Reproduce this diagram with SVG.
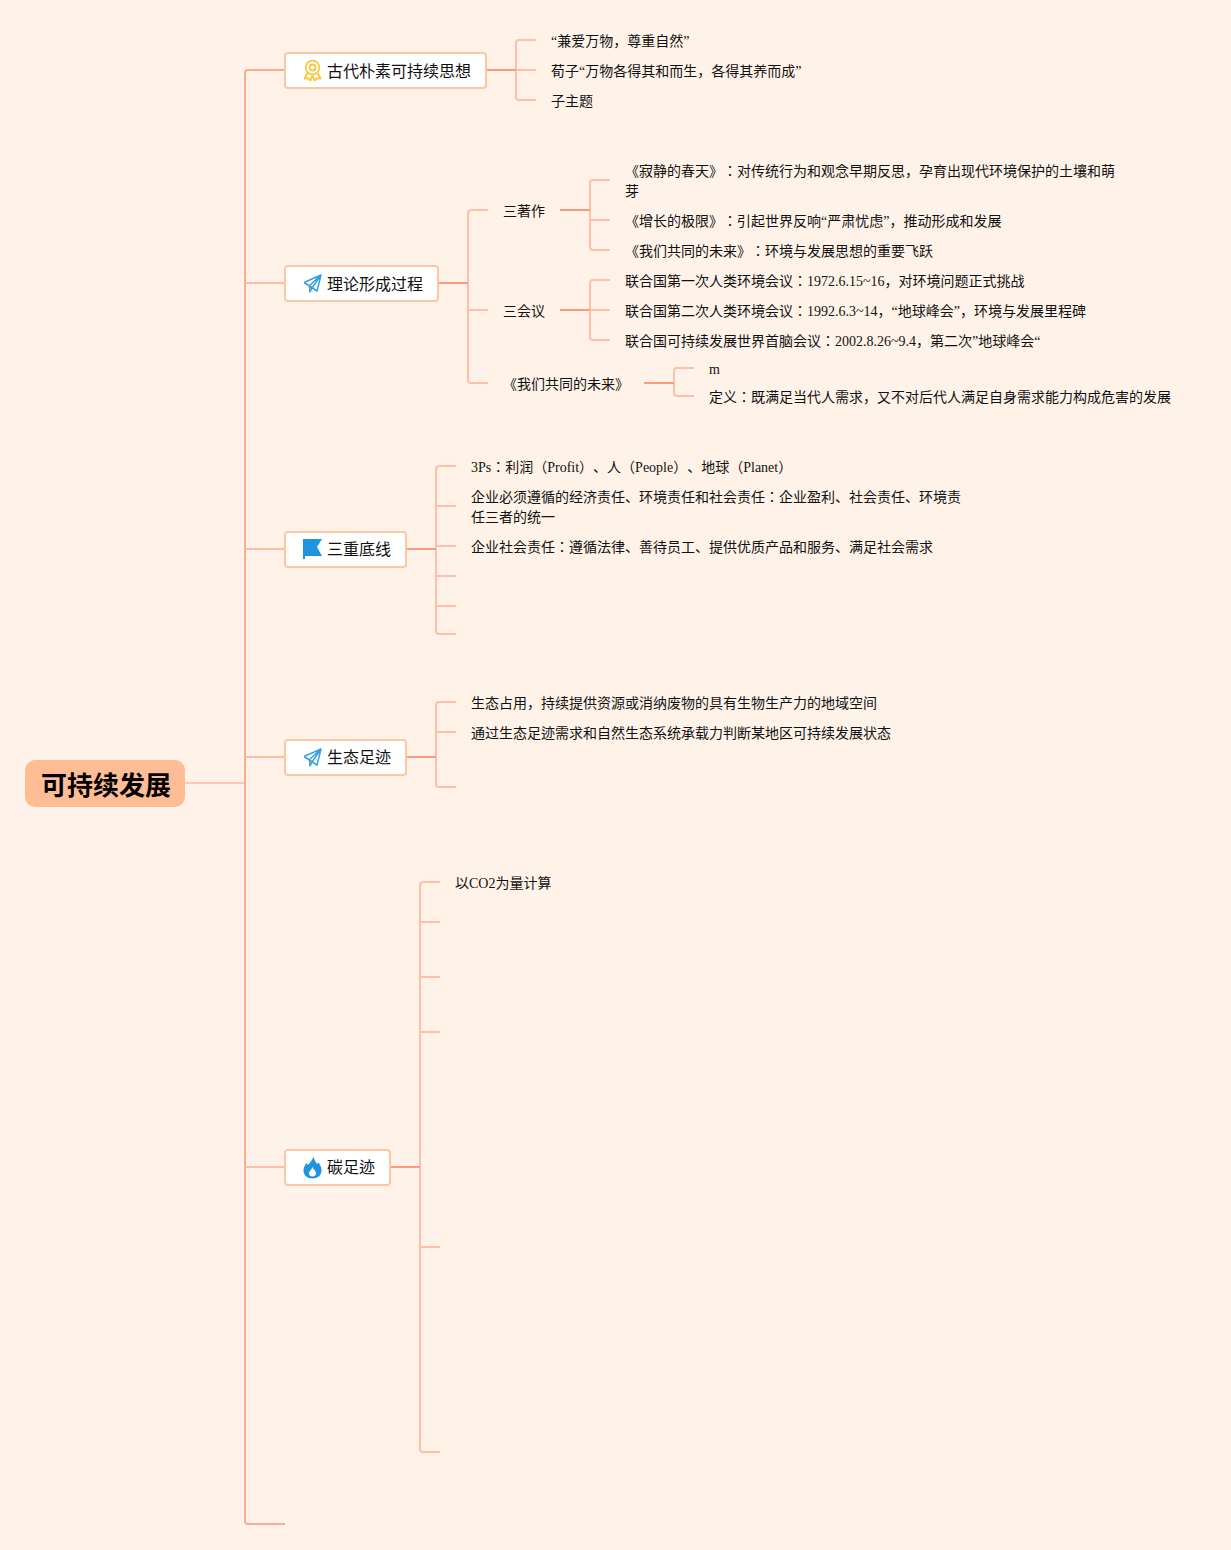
<svg xmlns="http://www.w3.org/2000/svg" width="1231" height="1550" viewBox="0 0 1231 1550">
<style>
text{font-family:"Liberation Serif","Noto Sans CJK JP",serif;font-size:14px;fill:#111;font-kerning:none;text-spacing-trim:space-all}
.t{font-size:16px;font-family:"Noto Sans CJK JP","Liberation Sans",sans-serif}
.r{font-size:26px;font-weight:700;fill:#000;font-family:"Noto Sans CJK JP","Liberation Sans",sans-serif}
.box{fill:#fff;stroke:#ffc6a6;stroke-width:2}
.l{fill:none;stroke:#ffbfa8;stroke-width:2}
.h{fill:none;stroke:#ff9a80;stroke-width:2}
.m{fill:none;stroke:#ff9a80;stroke-width:1}
.p{fill:none;stroke:#3a9fdc;stroke-width:1.5;stroke-linejoin:round}
</style>
<rect width="1231" height="1550" fill="#fff3e9"/>
<g id="connectors">
<path class="m" d="M185 783H245"/>
<path class="l" style="stroke:#ffaa90" d="M285 70H248Q245 70 245 73V1521Q245 1524 248 1524H285"/>
<path class="l" d="M245 283H285M245 549H285M245 757H285M245 1167H285"/>
<path class="l" d="M536 40H519Q516 40 516 43V97Q516 100 519 100H536M516 70H536"/>
<path class="h" d="M486 70H516"/>
<path class="l" d="M488 210H471Q468 210 468 213V380Q468 383 471 383H488M468 310H488"/>
<path class="h" d="M438 283H468"/>
<path class="l" d="M610 180H593Q590 180 590 183V247Q590 250 593 250H610M590 220H610"/>
<path class="h" d="M560 210H590"/>
<path class="l" d="M610 280H593Q590 280 590 283V337Q590 340 593 340H610M590 310H610"/>
<path class="h" d="M560 310H590"/>
<path class="l" d="M694 368H677Q674 368 674 371V393Q674 396 677 396H694"/>
<path class="h" d="M644 383H674"/>
<path class="l" d="M456 466H439Q436 466 436 469V631Q436 634 439 634H456M436 506H456M436 546H456M436 576H456M436 606H456"/>
<path class="h" d="M406 549H436"/>
<path class="l" d="M456 702H439Q436 702 436 705V784Q436 787 439 787H456M436 732H456"/>
<path class="h" d="M406 757H436"/>
<path class="l" d="M440 882H423Q420 882 420 885V1449Q420 1452 423 1452H440M420 922H440M420 977H440M420 1032H440M420 1247H440"/>
<path class="h" d="M390 1167H420"/>
</g>
<g id="root"><rect x="25" y="760" width="160" height="47" rx="10" fill="#ffbd95"/><text class="r" x="41" y="795">可持续发展</text></g>
<g id="n1"><rect class="box" x="285" y="53" width="201" height="35" rx="3"/>
<g fill="none" stroke="#f7c93e" stroke-width="1.8"><circle cx="312.500" cy="67.500" r="6.800"/><circle cx="312.500" cy="67.500" r="3"/><path d="M307.500 73L304.500 78.500L308.500 78.500L310.500 80.500L312.500 75.500L314.500 80.500L316.500 78.500L320.500 78.500L317.500 73" stroke-linejoin="round"/></g>
<text class="t" x="327" y="77">古代朴素可持续思想</text></g>
<g id="n1a"><text x="551" y="46">“兼爱万物，尊重自然”</text></g>
<g id="n1b"><text x="551" y="76">荀子“万物各得其和而生，各得其养而成”</text></g>
<g id="n1c"><text x="551" y="106">子主题</text></g>
<g id="n2"><rect class="box" x="285" y="266" width="153" height="35" rx="3"/>
<path class="p" d="M304 282.500L321 275L317 291L304 282.500M309.500 285.500L321 275L312 288L310 292Z"/>
<text class="t" x="327" y="290">理论形成过程</text></g>
<g id="n2a"><text x="503" y="216">三著作</text></g>
<g id="n2a1"><text x="625" y="176">《寂静的春天》：对传统行为和观念早期反思，孕育出现代环境保护的土壤和萌</text><text x="625" y="196">芽</text></g>
<g id="n2a2"><text x="625" y="226">《增长的极限》：引起世界反响“严肃忧虑”，推动形成和发展</text></g>
<g id="n2a3"><text x="625" y="256">《我们共同的未来》：环境与发展思想的重要飞跃</text></g>
<g id="n2b"><text x="503" y="316">三会议</text></g>
<g id="n2b1"><text x="625" y="286">联合国第一次人类环境会议：1972.6.15~16，对环境问题正式挑战</text></g>
<g id="n2b2"><text x="625" y="316">联合国第二次人类环境会议：1992.6.3~14，“地球峰会”，环境与发展里程碑</text></g>
<g id="n2b3"><text x="625" y="346">联合国可持续发展世界首脑会议：2002.8.26~9.4，第二次”地球峰会“</text></g>
<g id="n2c"><text x="503" y="389">《我们共同的未来》</text></g>
<g id="n2c1"><text x="709" y="374">m</text></g>
<g id="n2c2"><text x="709" y="402">定义：既满足当代人需求，又不对后代人满足自身需求能力构成危害的发展</text></g>
<g id="n3"><rect class="box" x="285" y="532" width="121" height="35" rx="3"/>
<path d="M303 539H322L317 547L322 556H305V559H303Z" fill="#1f95e0"/>
<text class="t" x="327" y="555">三重底线</text></g>
<g id="n3a"><text x="471" y="472">3Ps：利润（Profit）、人（People）、地球（Planet）</text></g>
<g id="n3b"><text x="471" y="502">企业必须遵循的经济责任、环境责任和社会责任：企业盈利、社会责任、环境责</text><text x="471" y="522">任三者的统一</text></g>
<g id="n3c"><text x="471" y="552">企业社会责任：遵循法律、善待员工、提供优质产品和服务、满足社会需求</text></g>
<g id="n4"><rect class="box" x="285" y="740" width="121" height="35" rx="3"/>
<path class="p" d="M304 756.500L321 749L317 765L304 756.500M309.500 759.500L321 749L312 762L310 766Z"/>
<text class="t" x="327" y="763">生态足迹</text></g>
<g id="n4a"><text x="471" y="708">生态占用，持续提供资源或消纳废物的具有生物生产力的地域空间</text></g>
<g id="n4b"><text x="471" y="738">通过生态足迹需求和自然生态系统承载力判断某地区可持续发展状态</text></g>
<g id="n5"><rect class="box" x="285" y="1150" width="105" height="35" rx="3"/>
<path d="M313.500 1156.500C314 1160 316 1162 317 1164L318.500 1162.500C320.500 1165 321.500 1168 321.500 1170.500C321.500 1175.500 317.500 1178.500 312.500 1178.500C307.500 1178.500 303.500 1175.500 303.500 1170.500C303.500 1167.500 305 1165 306.500 1163L308 1165C310 1162.500 312.500 1160 313.500 1156.500ZM312.500 1167C312 1169.500 309 1171 309 1173.500C309 1175.500 310.500 1176.500 312.500 1176.500C314.500 1176.500 316 1175.500 316 1173.500C316 1171 313.500 1169.500 312.500 1167Z" fill="#1f95e0" fill-rule="evenodd"/>
<text class="t" x="327" y="1173">碳足迹</text></g>
<g id="n5a"><text x="455" y="888">以CO2为量计算</text></g>
</svg>
